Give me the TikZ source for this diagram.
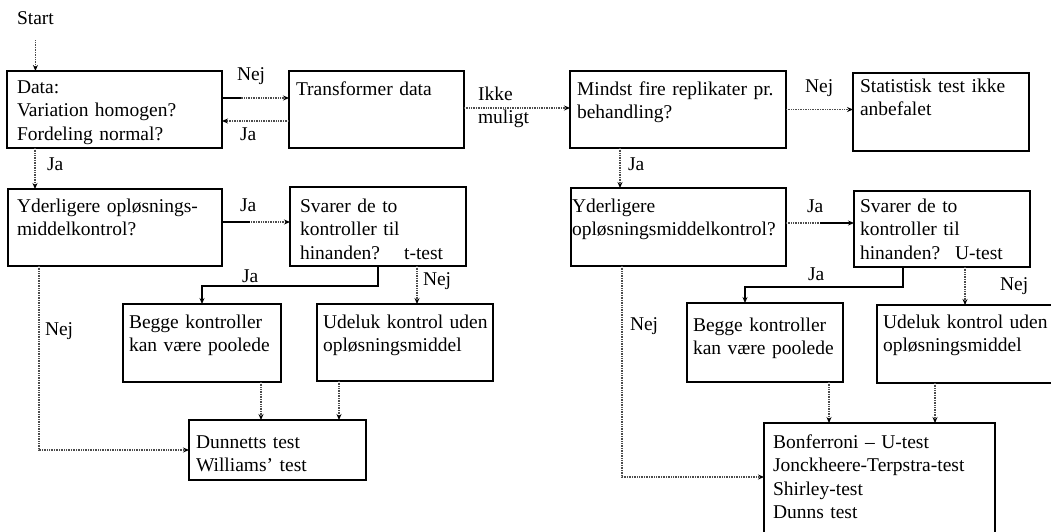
\documentclass[tikz,border=0pt]{standalone}
\usepackage{fontspec}
\setmainfont{Liberation Serif}
\usetikzlibrary{arrows.meta}
\begin{document}
\begin{tikzpicture}[x=1pt,y=-1pt,
  box/.style={draw, line width=1.3pt, inner sep=0pt, outer sep=0pt, anchor=north west},
  txt/.style={inner sep=0pt, outer sep=0pt, anchor=base west, align=left, text width=260pt,
              font=\fontsize{19.5}{23.5}\selectfont},
  lab/.style={inner sep=0pt, outer sep=0pt, anchor=base west, font=\fontsize{19.5}{23.5}\selectfont},
  arr/.style={dash pattern=on 1pt off 0.7pt, line width=1.3pt, black!70, -{Stealth[length=6pt,width=5pt,black]}},
  arrS/.style={line width=1.2pt, black, -{Stealth[length=6pt,width=5pt]}},
  seg/.style={line width=1.2pt, black}]
\useasboundingbox (0,0) rectangle (1051,531);
\clip (0,0) rectangle (1051,531);

% ---------- boxes ----------
\node[box, minimum width=215pt, minimum height=77pt] (data)   at (7,71) {};
\node[box, minimum width=175pt, minimum height=77pt] (trans)  at (289,71) {};
\node[box, minimum width=216pt, minimum height=77pt] (mindst) at (570,71) {};
\node[box, minimum width=176pt, minimum height=78pt] (stat)   at (853,73) {};
\node[box, minimum width=214pt, minimum height=77pt] (ydL)    at (8,189) {};
\node[box, minimum width=176pt, minimum height=79pt] (svL)    at (290,187) {};
\node[box, minimum width=158pt, minimum height=78pt] (begL)   at (123,304) {};
\node[box, minimum width=176pt, minimum height=77pt] (udL)    at (317,304) {};
\node[box, minimum width=177pt, minimum height=60pt] (dun)    at (189,420) {};
\node[box, minimum width=215pt, minimum height=78pt] (ydR)    at (571,188) {};
\node[box, minimum width=176pt, minimum height=76pt] (svR)    at (854,191) {};
\node[box, minimum width=156pt, minimum height=79pt] (begR)   at (687,303) {};
\node[box, minimum width=193pt, minimum height=78pt] (udR)    at (877,305) {};
\node[box, minimum width=231pt, minimum height=122pt] (bon)   at (764,423) {};

% ---------- box texts ----------
\node[lab] (start) at (17,24) {Start};
\node[txt] (dataT)   at (17,93)   {Data:\\Variation homogen?\\Fordeling normal?};
\node[txt] (transT)  at (296,95)  {Transformer data};
\node[txt] (mindstT) at (577,95)  {Mindst fire replikater pr.\\behandling?};
\node[txt] (statT)   at (860,92)  {Statistisk test ikke\\anbefalet};
\node[txt] (ydLT)    at (17,212)  {Yderligere opløsnings-\\middelkontrol?};
\node[txt] (svLT)    at (300,212) {Svarer de to\\kontroller til\\hinanden?\hspace{24pt}t-test};
\node[txt] (begLT)   at (129,328) {Begge kontroller\\kan være poolede};
\node[txt] (udLT)    at (323,328) {Udeluk kontrol uden\\opløsningsmiddel};
\node[txt] (dunT)    at (196,448) {Dunnetts test\\Williams’ test};
\node[txt] (ydRT)    at (572,212) {Yderligere\\opløsningsmiddelkontrol?};
\node[txt] (svRT)    at (860,212) {Svarer de to\\kontroller til\\hinanden?\hspace{15pt}U-test};
\node[txt] (begRT)   at (693,331) {Begge kontroller\\kan være poolede};
\node[txt] (udRT)    at (883,328) {Udeluk kontrol uden\\opløsningsmiddel};
\node[txt] (bonT)    at (773,448) {Bonferroni – U-test\\Jonckheere-Terpstra-test\\Shirley-test\\Dunns test};

% ---------- connector labels ----------
\node[lab] (l1)  at (237,80)  {Nej};
\node[lab] (l2)  at (240,140) {Ja};
\node[lab] (l3)  at (47,170)  {Ja};
\node[txt] (l4)  at (478,100) {Ikke\\muligt};
\node[lab] (l5)  at (628,170) {Ja};
\node[lab] (l6)  at (805,92)  {Nej};
\node[lab] (l7)  at (240,211) {Ja};
\node[lab] (l8)  at (242,282) {Ja};
\node[lab] (l9)  at (423,285) {Nej};
\node[lab] (l10) at (45,335)  {Nej};
\node[lab] (l11) at (807,212) {Ja};
\node[lab] (l12) at (808,280) {Ja};
\node[lab] (l13) at (1000,290) {Nej};
\node[lab] (l14) at (630,330) {Nej};

% ---------- connectors ----------
\draw[arr] ([yshift=-16pt]start.south) -- (start.south |- data.north);
\draw[arr] ([yshift=11.5pt]data.east) -- ([yshift=11.5pt]data.east -| trans.west);
\draw[seg] ([yshift=11.5pt]data.east) -- ++(19,0);
\draw[arr] ([yshift=-11.5pt]trans.west) -- ([yshift=-11.5pt]trans.west -| data.east);
\draw[arr] ([xshift=-79.5pt]data.south) -- ([xshift=-79.5pt]data.south |- ydL.north);
\draw[arr] ([yshift=1.5pt]trans.east) -- ([yshift=1.5pt]trans.east -| mindst.west);
\draw[arr] ([xshift=-58pt]mindst.south) -- ([xshift=-58pt]mindst.south |- ydR.north);
\draw[arr] (mindst.east) -- (mindst.east -| stat.west);

\draw[arr] ([yshift=5.5pt]ydL.east) -- ([yshift=5.5pt]ydL.east -| svL.west);
\draw[seg] ([yshift=5.5pt]ydL.east) -- ++(28,0);
\draw[arrS] (svL.south) -- ++(0,20) -| (begL.north);
\draw[arr] ([xshift=39pt]svL.south) -- ([xshift=39pt]svL.south |- udL.north);
\draw[arr] ([xshift=-76pt]ydL.south) |- (dun.west);
\draw[arr] ([xshift=59pt]begL.south) -- ([xshift=59pt]begL.south |- dun.north);
\draw[arr] ([xshift=-66pt]udL.south) -- ([xshift=-66pt]udL.south |- dun.north);

\draw[arr] ([yshift=4pt]ydR.east) -- ([yshift=4pt]ydR.east -| svR.west);
\draw[seg] ([yshift=4pt,xshift=34pt]ydR.east) -- ([yshift=4pt,xshift=-4pt]ydR.east -| svR.west);
\draw[arrS] ([xshift=-39pt]svR.south) -- ++(0,20) -| ([xshift=-20pt]begR.north);
\draw[arr] ([xshift=23pt]svR.south) -- ([xshift=23pt]svR.south |- udR.north);
\draw[arr] ([xshift=-56.5pt]ydR.south) |- ([yshift=7pt]bon.west);
\draw[arr] ([xshift=64pt]begR.south) -- ([xshift=64pt]begR.south |- bon.north);
\draw[arr] ([xshift=-38.5pt]udR.south) -- ([xshift=-38.5pt]udR.south |- bon.north);
\end{tikzpicture}
\end{document}
